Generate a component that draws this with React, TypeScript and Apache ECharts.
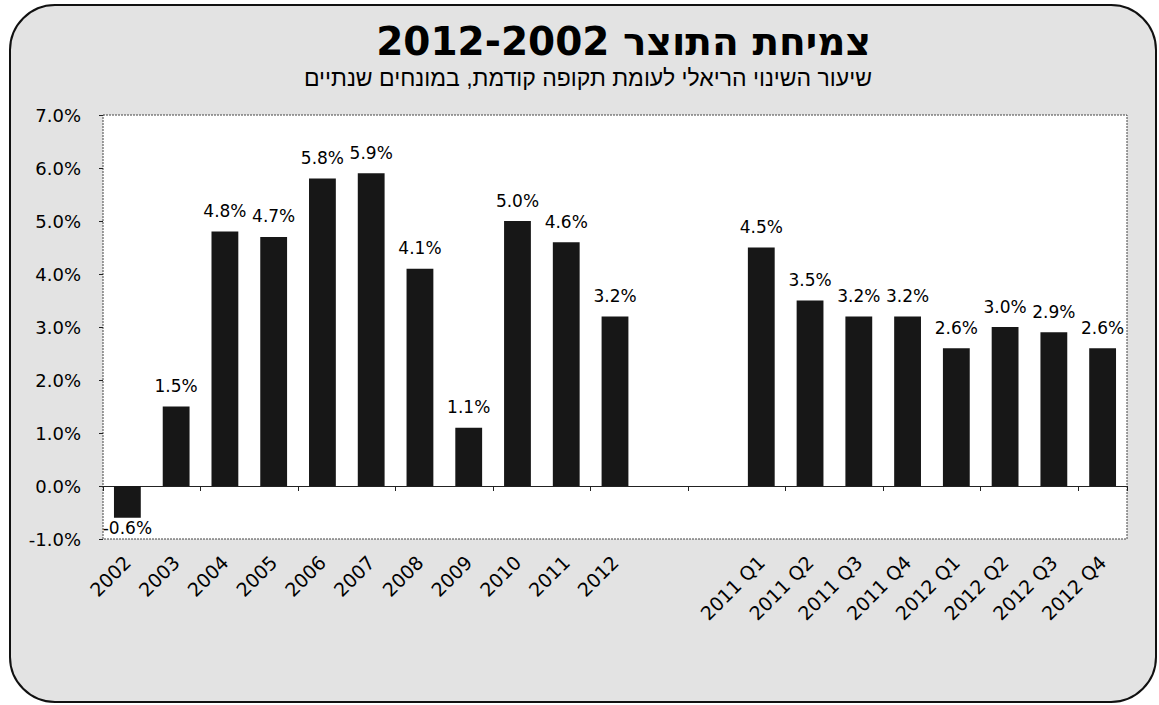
import React, { useEffect, useRef } from "react";
import * as echarts from "echarts";

const categories = [
  "2002", "2003", "2004", "2005", "2006", "2007", "2008", "2009", "2010", "2011", "2012",
  "", "",
  "2011 Q1", "2011 Q2", "2011 Q3", "2011 Q4", "2012 Q1", "2012 Q2", "2012 Q3", "2012 Q4",
];
const growth: (number | null)[] = [
  -0.6, 1.5, 4.8, 4.7, 5.8, 5.9, 4.1, 1.1, 5.0, 4.6, 3.2,
  null, null,
  4.5, 3.5, 3.2, 3.2, 2.6, 3.0, 2.9, 2.6,
];
const yTicks = { min: -1, max: 7, interval: 1 };
const titleText = "2012-2002 צמיחת התוצר";
const subtitleText = "שיעור השינוי הריאלי לעומת תקופה קודמת, במונחים שנתיים";

const FONT = "'DejaVu Sans', 'Liberation Sans', sans-serif";
const HEB_FONT = "'Liberation Sans', 'DejaVu Sans', sans-serif";

export default function App() {
  const ref = useRef<HTMLDivElement>(null);
  useEffect(() => {
    if (!ref.current) return;
    const chart = echarts.init(ref.current, null, { renderer: "svg" });
    const gl = 103, gt = 115, gr = 32, gb = 166;
    const W = 1159, H = 705;
    chart.setOption({
      animation: false,
      backgroundColor: "#ffffff",
      textStyle: { fontFamily: FONT },
      grid: { left: gl, right: gr, top: gt, bottom: gb, containLabel: false },
      graphic: [
        {
          type: "rect",
          z: -100,
          shape: { x: 10, y: 5, width: 1146, height: 697, r: 45 },
          style: { fill: "#e3e3e3", stroke: "#111", lineWidth: 2 },
        },
        {
          type: "rect",
          z: -50,
          shape: { x: gl, y: gt, width: W - gl - gr, height: H - gt - gb },
          style: { fill: "#ffffff", stroke: "#444", lineWidth: 1, lineDash: [2, 1] },
        },
        {
          type: "text",
          x: 871,
          y: 41,
          style: {
            text: titleText,
            fontFamily: FONT,
            fontSize: 39,
            fontWeight: "bold",
            fill: "#000",
            textAlign: "right",
            textVerticalAlign: "middle",
          },
        },
        {
          type: "text",
          x: 872,
          y: 78,
          style: {
            text: subtitleText,
            fontFamily: HEB_FONT,
            fontSize: 23,
            fill: "#000",
            textAlign: "right",
            textVerticalAlign: "middle",
          },
        },
      ],
      xAxis: [
        {
          type: "category",
          data: categories,
          axisLine: { onZero: true, lineStyle: { color: "#222", width: 1 } },
          axisTick: { show: true, length: 5, lineStyle: { color: "#222" } },
          axisLabel: { show: false },
          splitLine: { show: false },
        },
        {
          type: "category",
          data: categories,
          position: "bottom",
          axisLine: { show: false, onZero: false },
          axisTick: { show: false },
          axisLabel: {
            show: true,
            interval: 0,
            rotate: 45,
            fontSize: 19,
            color: "#000",
            fontFamily: FONT,
            margin: 20,
          },
          splitLine: { show: false },
        },
      ],
      yAxis: {
        type: "value",
        min: yTicks.min,
        max: yTicks.max,
        interval: yTicks.interval,
        axisLine: { show: false },
        axisTick: { show: true, length: 4, lineStyle: { color: "#222" } },
        splitLine: { show: false },
        axisLabel: {
          fontSize: 18,
          color: "#000",
          fontFamily: FONT,
          margin: 22,
          formatter: (v: number) => v.toFixed(1) + "%",
        },
      },
      series: [
        {
          type: "bar",
          xAxisIndex: 0,
          data: growth.map((v) =>
            v === null
              ? null
              : {
                  value: v,
                  label: { position: v < 0 ? "bottom" : "top", distance: v < 0 ? 2 : 12 },
                }
          ),
          barWidth: "55%",
          itemStyle: { color: "#171717" },
          label: {
            show: true,
            fontSize: 17,
            color: "#000",
            fontFamily: FONT,
            formatter: (p: any) => (p.value == null ? "" : Number(p.value).toFixed(1) + "%"),
          },
        },
      ],
    });
    return () => chart.dispose();
  }, []);
  return (
    <div
      ref={ref}
      style={{ position: "fixed", left: 0, top: 0, width: 1159, height: 705 }}
    />
  );
}
